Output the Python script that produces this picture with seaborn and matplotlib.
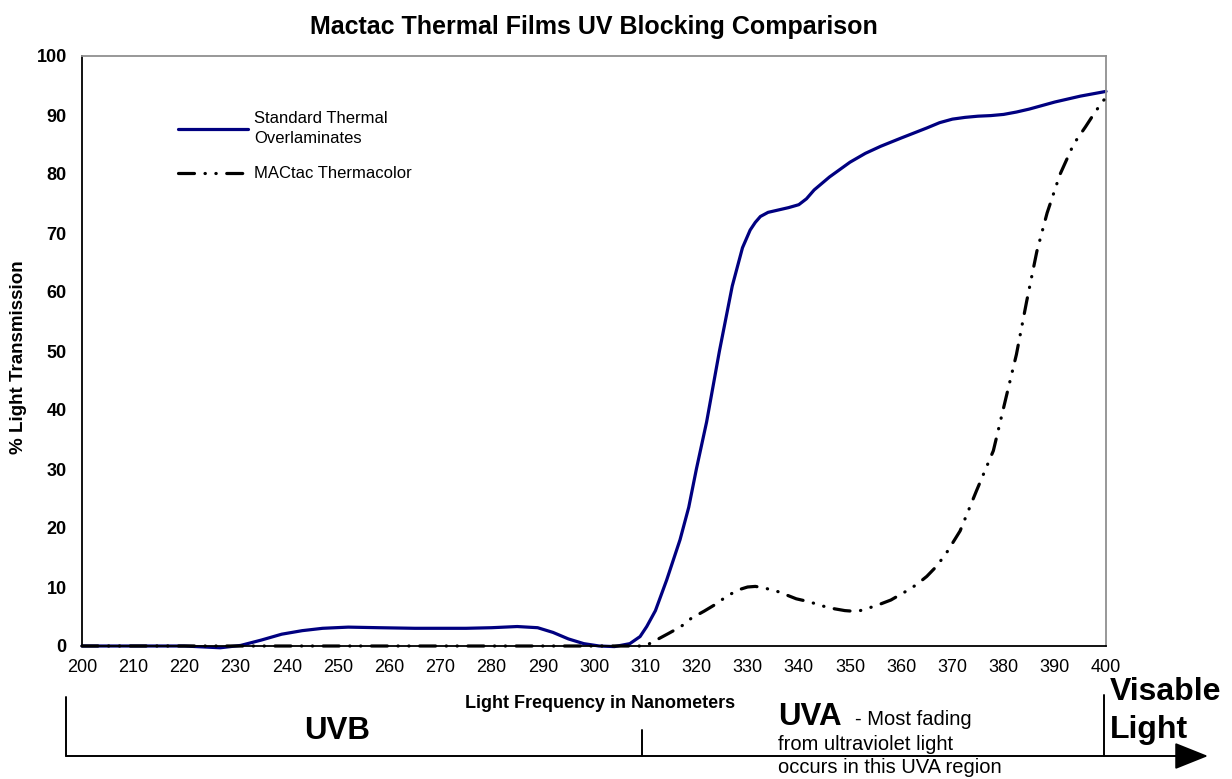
import matplotlib
matplotlib.use("Agg")
import matplotlib.pyplot as plt
import seaborn as sns
from matplotlib.lines import Line2D
from matplotlib.patches import FancyArrowPatch

# wavelength (nm) and % transmission
nm_standard = [200, 210, 220, 227, 231, 235, 239, 243, 247, 252, 258, 265, 275, 280,
               285, 289, 292, 295, 298, 301, 304, 307, 309, 310.3, 312, 314.2, 316.8,
               318.5, 320, 322, 324.5, 327, 329, 330.5, 331.5, 332.5, 334, 336, 338,
               340, 341.5, 343, 346, 350, 353, 356, 360, 365, 367.5, 370, 372.5, 375,
               377.5, 380, 382.5, 385, 390, 395, 400]
standard = [0, 0, 0, -0.3, 0.1, 1.0, 2.0, 2.6, 3.0, 3.2, 3.1, 3.0, 3.0, 3.1,
            3.3, 3.1, 2.3, 1.2, 0.4, 0.0, -0.1, 0.4, 1.6, 3.3, 6.0, 11.2, 18.0,
            23.5, 30.0, 38.0, 50.0, 61.0, 67.5, 70.5, 71.8, 72.8, 73.5, 73.9, 74.3,
            74.8, 75.8, 77.3, 79.5, 82.0, 83.5, 84.7, 86.1, 87.8, 88.7, 89.3, 89.6, 89.8,
            89.9, 90.1, 90.5, 91.0, 92.2, 93.2, 94.0]

nm_mactac = [200, 305, 310, 314.5, 317, 319, 321.5, 324, 326, 328.5, 330, 331.5, 333,
             336, 339.5, 342, 345, 347, 349, 350.5, 352, 355, 358, 361, 363, 365, 367,
             369, 371.5, 374.7, 378, 380.5, 382.5, 384.5, 386.5, 388.5, 391, 393.7,
             396, 397.5, 399, 400]
mactac = [0, 0, 0, 2.1, 3.3, 4.7, 5.9, 7.2, 8.5, 9.6, 10.0, 10.1, 9.9,
          9.2, 8.0, 7.5, 6.7, 6.3, 6.0, 5.9, 6.0, 6.8, 7.8, 9.3, 10.4, 11.8, 13.6,
          16.0, 19.5, 26.3, 33.1, 42.2, 49.4, 58.4, 66.9, 73.4, 79.9, 85.1,
          88.0, 90.0, 91.9, 93.0]

x_ticks = list(range(200, 401, 10))
y_ticks = list(range(0, 101, 10))

sns.set_style("white")
plt.rcParams["font.family"] = ["Liberation Sans", "DejaVu Sans"]
plt.rcParams.update({"text.color": "black", "axes.labelcolor": "black",
                     "xtick.color": "black", "ytick.color": "black"})

W, H = 1232, 779
fig = plt.figure(figsize=(W / 100, H / 100), dpi=100)
ax = fig.add_axes([82 / W, 1 - 646 / H, 1024 / W, 590 / H])

sns.lineplot(x=nm_standard, y=standard, ax=ax, color="#000080", linewidth=2.3,
             label="Standard Thermal\nOverlaminates", zorder=2)
sns.lineplot(x=nm_mactac, y=mactac, ax=ax, color="black", linewidth=2.3,
             label="MACtac Thermacolor", zorder=3)
blue_line, black_line = ax.lines[0], ax.lines[1]
black_line.set_dashes((5, 3.3, 0.1, 3.3, 0.1, 3.3))
black_line.set_dash_capstyle("round")
for ln in ax.lines:
    ln.set_clip_on(False)
    ln.set_solid_joinstyle("round")
    ln.set_dash_joinstyle("round")

ax.set_xlim(200, 400)
ax.set_ylim(0, 100)
ax.set_xticks(x_ticks)
ax.set_yticks(y_ticks)
ax.tick_params(axis="x", direction="inout", length=8, width=1, color="#909090",
               labelcolor="black", labelsize=13, pad=5)
ax.tick_params(axis="y", direction="inout", length=10, width=1, color="#909090",
               labelcolor="black", labelsize=13, pad=6)
for lbl in ax.get_yticklabels():
    lbl.set_fontweight("bold")

for side in ["left", "bottom"]:
    ax.spines[side].set_color("black")
    ax.spines[side].set_linewidth(1.3)
for side in ["top", "right"]:
    ax.spines[side].set_color("#909090")
    ax.spines[side].set_linewidth(1.3)

ax.set_title("Mactac Thermal Films UV Blocking Comparison", fontsize=18,
             fontweight="bold", pad=16)
ax.set_xlabel("Light Frequency in Nanometers", fontsize=13, fontweight="bold")
ax.xaxis.set_label_coords(0.506, -0.083)
ax.set_ylabel("% Light Transmission", fontsize=13.5, fontweight="bold")
ax.yaxis.set_label_coords(-0.054, 0.49)

leg = ax.legend(handles=[blue_line, black_line],
                labels=["Standard Thermal\nOverlaminates", "MACtac Thermacolor"],
                frameon=False, fontsize=12, loc="upper left",
                bbox_to_anchor=(178 / W, 1 - 111 / H), bbox_transform=fig.transFigure,
                borderpad=0, borderaxespad=0, handlelength=4.2, handletextpad=0.35,
                labelspacing=1.2)
for t in leg.get_texts():
    t.set_linespacing(1.45)


def fx(px):
    return px / W


def fy(py):
    return 1 - py / H


# region bracket under the axis
for x0, y0 in [(66, 697), (642, 730), (1104, 695)]:
    fig.add_artist(Line2D([fx(x0), fx(x0)], [fy(y0), fy(756)], color="black",
                          linewidth=1.4, transform=fig.transFigure))
fig.add_artist(FancyArrowPatch((fx(66), fy(756)), (fx(1208), fy(756)),
                               transform=fig.transFigure,
                               arrowstyle="-|>,head_length=1.5,head_width=0.6",
                               color="black", linewidth=1.4, mutation_scale=14,
                               shrinkA=0, shrinkB=0))

fig.text(fx(337), fy(739), "UVB", fontsize=22.5, fontweight="bold",
         ha="center", va="baseline")
fig.text(fx(778), fy(725), "UVA", fontsize=22.5, fontweight="bold",
         ha="left", va="baseline")
fig.text(fx(855), fy(725), "- Most fading", fontsize=14.5, ha="left", va="baseline")
fig.text(fx(778), fy(750), "from ultraviolet light", fontsize=14.5,
         ha="left", va="baseline")
fig.text(fx(778), fy(773), "occurs in this UVA region", fontsize=14.5,
         ha="left", va="baseline")
fig.text(fx(1110), fy(700), "Visable", fontsize=23, fontweight="bold",
         ha="left", va="baseline")
fig.text(fx(1110), fy(738), "Light", fontsize=23, fontweight="bold",
         ha="left", va="baseline")

fig.savefig("out.png", dpi=100)
